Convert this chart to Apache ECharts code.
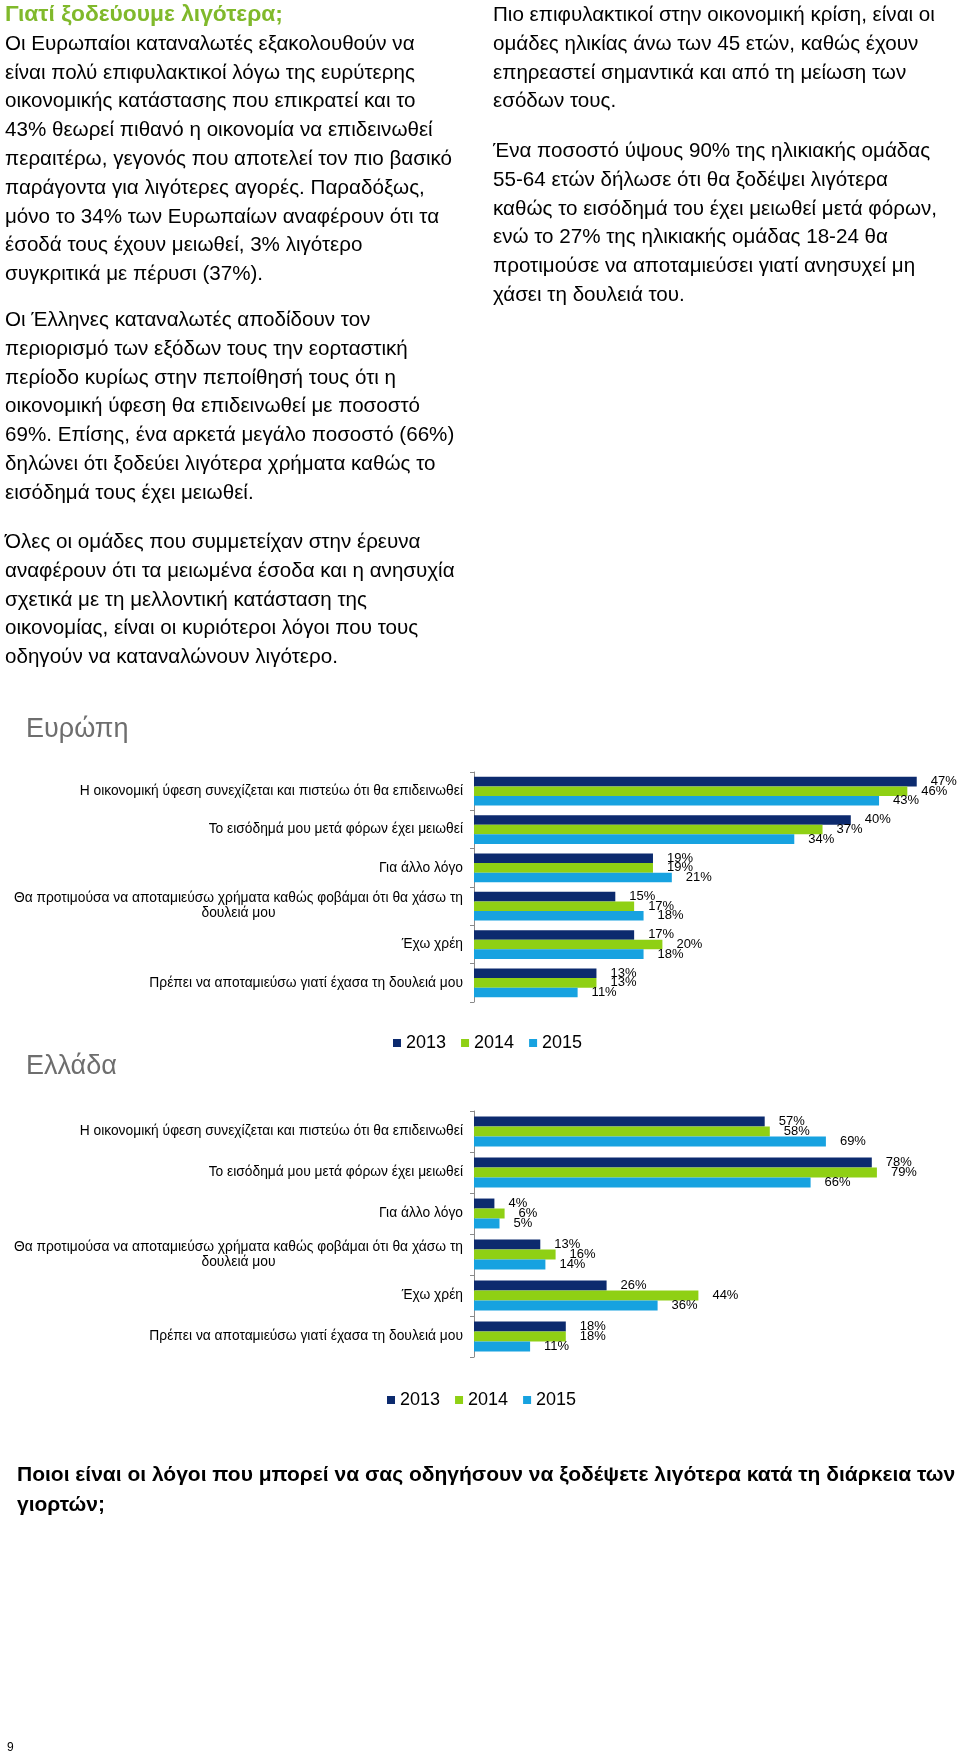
<!DOCTYPE html>
<html>
<head>
<meta charset="utf-8">
<script src="https://cdn.jsdelivr.net/npm/echarts@6/dist/echarts.min.js"></script>
<style>
  html, body { margin: 0; padding: 0; background: #fff; }
  body { width: 960px; height: 1753px; position: relative; overflow: hidden;
         font-family: "Liberation Sans", Arial, sans-serif; color: #000; }
  #chart { position: absolute; left: 0; top: 0; width: 960px; height: 1753px; }
  .p { position: absolute; font-size: 20.6px; line-height: 28.8px; white-space: nowrap; z-index: 2; }
  .ttl { color: #80b92b; font-weight: bold; font-size: 22.8px; }
  .q { position: absolute; font-size: 21px; font-weight: bold; line-height: 30px; white-space: nowrap; z-index: 2; }
  .pg { position: absolute; font-size: 12px; z-index: 2; }
</style>
</head>
<body>
<div id="chart"></div>

<div class="p" style="left:5px; top:-1px;">
<span class="ttl">Γιατί ξοδεύουμε λιγότερα;</span><br>
Οι Ευρωπαίοι καταναλωτές εξακολουθούν να<br>
είναι πολύ επιφυλακτικοί λόγω της ευρύτερης<br>
οικονομικής κατάστασης που επικρατεί και το<br>
43% θεωρεί πιθανό η οικονομία να επιδεινωθεί<br>
περαιτέρω, γεγονός που αποτελεί τον πιο βασικό<br>
παράγοντα για λιγότερες αγορές. Παραδόξως,<br>
μόνο το 34% των Ευρωπαίων αναφέρουν ότι τα<br>
έσοδά τους έχουν μειωθεί, 3% λιγότερο<br>
συγκριτικά με πέρυσι (37%).
</div>

<div class="p" style="left:5px; top:305px;">
Οι Έλληνες καταναλωτές αποδίδουν τον<br>
περιορισμό των εξόδων τους την εορταστική<br>
περίοδο κυρίως στην πεποίθησή τους ότι η<br>
οικονομική ύφεση θα επιδεινωθεί με ποσοστό<br>
69%. Επίσης, ένα αρκετά μεγάλο ποσοστό (66%)<br>
δηλώνει ότι ξοδεύει λιγότερα χρήματα καθώς το<br>
εισόδημά τους έχει μειωθεί.
</div>

<div class="p" style="left:5px; top:527px;">
Όλες οι ομάδες που συμμετείχαν στην έρευνα<br>
αναφέρουν ότι τα μειωμένα έσοδα και η ανησυχία<br>
σχετικά με τη μελλοντική κατάσταση της<br>
οικονομίας, είναι οι κυριότεροι λόγοι που τους<br>
οδηγούν να καταναλώνουν λιγότερο.
</div>

<div class="p" style="left:493px; top:0px;">
Πιο επιφυλακτικοί στην οικονομική κρίση, είναι οι<br>
ομάδες ηλικίας άνω των 45 ετών, καθώς έχουν<br>
επηρεαστεί σημαντικά και από τη μείωση των<br>
εσόδων τους.
</div>

<div class="p" style="left:493px; top:136px;">
Ένα ποσοστό ύψους 90% της ηλικιακής ομάδας<br>
55-64 ετών δήλωσε ότι θα ξοδέψει λιγότερα<br>
καθώς το εισόδημά του έχει μειωθεί μετά φόρων,<br>
ενώ το 27% της ηλικιακής ομάδας 18-24 θα<br>
προτιμούσε να αποταμιεύσει γιατί ανησυχεί μη<br>
χάσει τη δουλειά του.
</div>

<div class="q" style="left:17px; top:1459px;">
Ποιοι είναι οι λόγοι που μπορεί να σας οδηγήσουν να ξοδέψετε λιγότερα κατά τη διάρκεια των<br>
γιορτών;
</div>

<div class="pg" style="left:7px; top:1740px;">9</div>

<script>
// ---- data ----
const categories = [
  'Η οικονομική ύφεση συνεχίζεται και πιστεύω ότι θα επιδεινωθεί',
  'Το εισόδημά μου μετά φόρων έχει μειωθεί',
  'Για άλλο λόγο',
  'Θα προτιμούσα να αποταμιεύσω χρήματα καθώς φοβάμαι ότι θα χάσω τη\nδουλειά μου',
  'Έχω χρέη',
  'Πρέπει να αποταμιεύσω γιατί έχασα τη δουλειά μου'
];
const years = ['2013', '2014', '2015'];
const europe2013 = [47, 40, 19, 15, 17, 13];
const europe2014 = [46, 37, 19, 17, 20, 13];
const europe2015 = [43, 34, 21, 18, 18, 11];
const greece2013 = [57, 78, 4, 13, 26, 18];
const greece2014 = [58, 79, 6, 16, 44, 18];
const greece2015 = [69, 66, 5, 14, 36, 11];
const panelTitles = ['Ευρώπη', 'Ελλάδα'];

// ---- styles ----
const FONT = '"Liberation Sans", Arial, sans-serif';
const colors = ['#0c2a6e', '#8fd014', '#17a2e0'];
const axisColor = '#8a8a8a';

const chart = echarts.init(document.getElementById('chart'), null, { renderer: 'canvas' });

function yAxisFor(gridIndex) {
  return {
    type: 'category', gridIndex: gridIndex, data: categories, inverse: true,
    axisLine: { show: true, lineStyle: { color: axisColor, width: 1 } },
    axisTick: { show: true, length: 4, lineStyle: { color: axisColor } },
    splitLine: { show: false },
    axisLabel: {
      interval: 0, margin: 11, color: '#000', fontSize: 14, fontFamily: FONT,
      formatter: v => '{c|' + v + '}',
      rich: { c: { align: 'center', fontSize: 13.8, lineHeight: 15, color: '#000', fontFamily: FONT } }
    }
  };
}
function xAxisFor(gridIndex, max) {
  return { type: 'value', gridIndex: gridIndex, min: 0, max: max, show: false, splitLine: { show: false } };
}

const seriesData = [[europe2013, europe2014, europe2015], [greece2013, greece2014, greece2015]];
const gaps = ['25%', '27%'];
const series = [];
seriesData.forEach((set, g) => {
  set.forEach((vals, i) => {
    series.push({
      type: 'bar', name: years[i], xAxisIndex: g, yAxisIndex: g, data: vals,
      barGap: '0%', barCategoryGap: gaps[g],
      itemStyle: { color: colors[i] },
      label: { show: true, position: 'right', distance: 14, formatter: '{c}%',
               fontSize: 13, color: '#000', fontFamily: FONT },
      emphasis: { disabled: true },
      animation: false
    });
  });
});

const legendBase = {
  data: years, icon: 'rect', itemWidth: 8, itemHeight: 8, itemGap: 15, padding: 0,
  textStyle: { fontSize: 18, color: '#000', fontFamily: FONT }, selectedMode: false
};

chart.setOption({
  backgroundColor: '#fff',
  animation: false,
  title: [
    { text: panelTitles[0], left: 26, top: 716, padding: 0,
      textStyle: { fontSize: 27, fontWeight: 'normal', color: '#6e6e6e', fontFamily: FONT } },
    { text: panelTitles[1], left: 26, top: 1053, padding: 0,
      textStyle: { fontSize: 27, fontWeight: 'normal', color: '#6e6e6e', fontFamily: FONT } }
  ],
  legend: [
    Object.assign({}, legendBase, { left: 393, top: 1034 }),
    Object.assign({}, legendBase, { left: 387, top: 1391 })
  ],
  grid: [
    { left: 474, top: 772, width: 471, height: 230 },
    { left: 474, top: 1111, width: 459, height: 246 }
  ],
  xAxis: [xAxisFor(0, 50), xAxisFor(1, 90)],
  yAxis: [yAxisFor(0), yAxisFor(1)],
  series: series
});
</script>
</body>
</html>
